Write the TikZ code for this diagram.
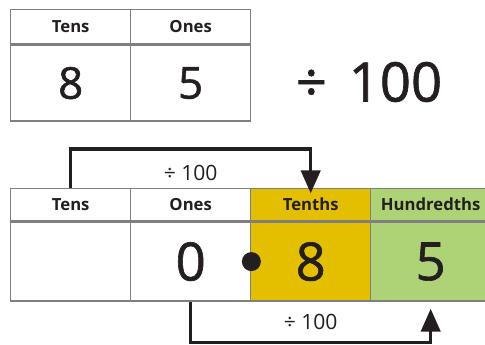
\documentclass[tikz,border=0pt]{standalone}
\usepackage{fontspec}
\setmainfont{Open Sans}
\newfontfamily\digfont[FakeBold=1.2]{Open Sans}
\usetikzlibrary{arrows.meta}
\definecolor{ink}{HTML}{231F20}
\definecolor{rule}{HTML}{7F7F7F}
\definecolor{gold}{HTML}{E3BF00}
\definecolor{leaf}{HTML}{ADD376}

\begin{document}
\begin{tikzpicture}[x=0.02cm,y=-0.02cm,text=ink,>={Triangle[length=13pt,width=11pt]},
  head/.style={draw=rule,line width=0.8pt,anchor=north west,inner sep=0pt,
    minimum width=2.4cm,font=\bfseries\fontsize{9.5}{11}\selectfont},
  body/.style={draw=rule,line width=0.8pt,anchor=north west,inner sep=0pt,minimum width=2.4cm},
  link/.style={->,ink,line width=1.8pt},
  lbl/.style={font=\fontsize{12}{14}\selectfont}]
  \useasboundingbox (0,0) rectangle (485,345);
  % top chart
  \foreach \i/\lab/\dig in {1/Tens/8,2/Ones/5}{
    \node[head,minimum height=0.68cm] (topH\i) at ({10+120*(\i-1)},9) {\lab};
    \node[body,minimum height=1.52cm,font=\digfont\fontsize{25}{30}\selectfont] (topB\i) at (topH\i.south west) {\dig};
  }
  \node[font=\digfont\fontsize{31}{36}\selectfont] (divtxt) at (369,82) {÷\hspace{0.4em}100};

  % bottom chart
  \foreach \i/\lab/\dig/\col in {1/Tens//white,2/Ones/0/white,3/Tenths/8/gold,4/Hundredths/5/leaf}{
    \node[head,fill=\col,minimum height=0.64cm] (botH\i) at ({10+120*(\i-1)},188) {\lab};
    \node[body,fill=\col,minimum height=1.58cm,font=\digfont\fontsize{30}{36}\selectfont] (botB\i) at (botH\i.south west) {\dig};
  }
  \node[circle,fill=ink,inner sep=0pt,minimum size=0.38cm] (point) at (botB2.east) {};

  \draw[link,shorten >=-3pt] (botH1.north) -- ++(0,-39) -| (botH3.north)
    node[lbl,pos=0.25,below=5pt] {÷ 100};
  \draw[link,shorten >=4pt] (botB2.south) -- ++(0,41) -| (botB4.south)
    node[lbl,pos=0.25,above=3pt] {÷ 100};
\end{tikzpicture}
\end{document}
